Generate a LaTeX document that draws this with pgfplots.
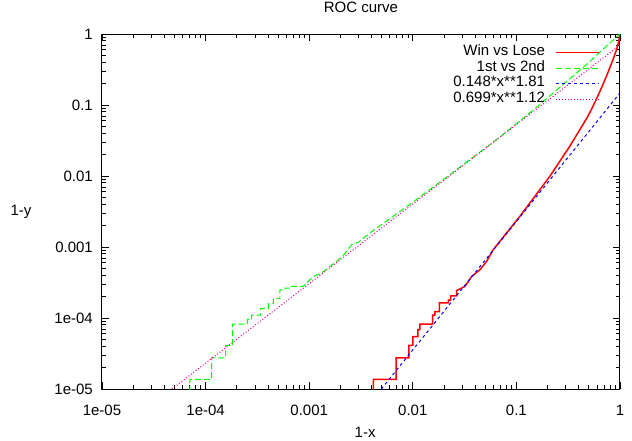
\documentclass[border=0pt]{standalone}
\usepackage{fontspec}
\setmainfont{Liberation Sans}
\usepackage{pgfplots}
\pgfplotsset{compat=1.18}
\begin{document}
\fontsize{15bp}{18bp}\selectfont
\begin{tikzpicture}
\path[use as bounding box] (-102bp,-52bp) rectangle (530bp,389bp);
\begin{axis}[
  at={(0,0)}, anchor=south west,
  scale only axis, width=518bp, height=355bp,
  xmode=log, ymode=log,
  xmin=1e-5, xmax=1, ymin=1e-5, ymax=1,
  xtick={1e-5,1e-4,1e-3,1e-2,1e-1,1},
  xticklabels={\mbox{1e-05},\mbox{1e-04},\mbox{0.001},\mbox{0.01},\mbox{0.1},\mbox{1}},
  ytick={1e-5,1e-4,1e-3,1e-2,1e-1,1},
  yticklabels={\mbox{1e-05},\mbox{1e-04},\mbox{0.001},\mbox{0.01},\mbox{0.1},\mbox{1}},
  minor xtick={2e-5,3e-5,4e-5,5e-5,6e-5,7e-5,8e-5,9e-5,2e-4,3e-4,4e-4,5e-4,6e-4,7e-4,8e-4,9e-4,2e-3,3e-3,4e-3,5e-3,6e-3,7e-3,8e-3,9e-3,2e-2,3e-2,4e-2,5e-2,6e-2,7e-2,8e-2,9e-2,0.2,0.3,0.4,0.5,0.6,0.7,0.8,0.9},
  minor ytick={2e-5,3e-5,4e-5,5e-5,6e-5,7e-5,8e-5,9e-5,2e-4,3e-4,4e-4,5e-4,6e-4,7e-4,8e-4,9e-4,2e-3,3e-3,4e-3,5e-3,6e-3,7e-3,8e-3,9e-3,2e-2,3e-2,4e-2,5e-2,6e-2,7e-2,8e-2,9e-2,0.2,0.3,0.4,0.5,0.6,0.7,0.8,0.9},
  tick align=inside,
  major tick length=7bp, minor tick length=4bp,
  every tick/.style={black, line width=0.8bp},
  axis line style={line width=1bp},
  /pgf/number format/assume math mode=true,
  xticklabel style={anchor=north, inner sep=0pt, yshift=-15.5bp},
  yticklabel style={anchor=east, inner sep=0pt, xshift=-9bp},
  title={ROC curve},
  title style={at={(axis description cs:0.5,1)}, anchor=center, inner sep=0pt, yshift=21bp},
  xlabel={1-x},
  xlabel style={at={(axis description cs:0.508,0)}, anchor=center, inner sep=0pt, yshift=-43bp},
  ylabel={1-y},
  ylabel style={at={(axis description cs:0,0.5)}, anchor=center, rotate=-90, inner sep=0pt, xshift=-81bp},
  legend plot pos=right,
  legend cell align=right,
  legend image code/.code={\draw (0bp,0bp) -- (43bp,0bp);},
  legend style={draw=none, fill=none, at={(axis description cs:0.961,0.970)}, anchor=north east,
    inner sep=0pt, row sep=0pt, column sep=10bp,
    nodes={inner sep=0pt, text height=11bp, text depth=4.5bp}},
]
\addplot[red, line width=1.5bp] coordinates {
(4.16e-3,5e-6) (4.16e-3,1.37e-5) (6.89e-3,1.37e-5) (6.89e-3,2.74e-5)
(9.18e-3,2.74e-5) (9.18e-3,4.11e-5) (1.00e-2,4.11e-5) (1.00e-2,5.48e-5)
(1.122e-2,5.48e-5) (1.122e-2,6.85e-5) (1.172e-2,6.85e-5) (1.172e-2,8.22e-5)
(1.556e-2,8.22e-5) (1.556e-2,1.10e-4) (1.637e-2,1.10e-4) (1.637e-2,1.23e-4)
(1.803e-2,1.23e-4) (1.803e-2,1.64e-4) (2.203e-2,1.64e-4) (2.203e-2,1.78e-4)
(2.323e-2,1.78e-4) (2.323e-2,2.05e-4) (2.655e-2,2.05e-4) (2.655e-2,2.44e-4)
(3.19e-2,2.79e-4) (3.71e-2,3.86e-4) (4.46e-2,4.80e-4) (5.16e-2,6.28e-4)
(5.98e-2,9.18e-4) (0.1084,2.72e-3) (0.1455,4.83e-3) (0.2109,9.95e-3)
(0.3289,2.65e-2) (0.4775,6.49e-2) (0.5333,8.81e-2) (0.631,0.1479)
(0.7447,0.2600) (0.8511,0.4266) (0.929,0.6095) (0.9727,0.7943) (1,1)
};
\addlegendentry{Win vs Lose}
\addplot[color={rgb,255:red,0;green,255;blue,0}, line width=1bp, dash pattern=on 6bp off 3bp] coordinates {
(7.06e-5,5e-6) (7.06e-5,1.37e-5) (1.146e-4,1.37e-5) (1.146e-4,2.74e-5)
(1.563e-4,2.74e-5) (1.563e-4,4.11e-5) (1.828e-4,4.11e-5) (1.828e-4,8.22e-5)
(2.529e-4,8.22e-5) (2.529e-4,9.59e-5) (2.786e-4,9.59e-5) (2.786e-4,1.096e-4)
(3.40e-4,1.096e-4) (3.40e-4,1.37e-4) (4.03e-4,1.37e-4) (4.03e-4,1.59e-4)
(4.50e-4,1.59e-4) (4.50e-4,1.87e-4) (5.22e-4,1.87e-4) (5.22e-4,2.50e-4)
(5.83e-4,2.50e-4) (5.83e-4,2.64e-4) (6.53e-4,2.64e-4) (6.53e-4,2.79e-4)
(8.77e-4,2.79e-4) (1.019e-3,3.47e-4) (1.138e-3,3.94e-4) (1.321e-3,4.31e-4)
(1.476e-3,4.91e-4) (1.841e-3,6.28e-4) (2.133e-3,7.57e-4) (2.570e-3,1.081e-3)
(2.979e-3,1.164e-3) (3.459e-3,1.390e-3) (3.864e-3,1.581e-3) (1.0e-2,4.27e-3)
(2.512e-2,1.16e-2) (6.95e-2,3.55e-2) (0.1514,8.91e-2) (0.3162,0.2239)
(0.5012,0.398) (0.7413,0.676) (0.8913,0.861) (1,1)
};
\addlegendentry{1st vs 2nd}
\addplot[blue, line width=1bp, dash pattern=on 3bp off 3bp] coordinates {
(4.966e-3,1e-5) (1,0.148)
};
\addlegendentry{0.148*x**1.81}
\addplot[magenta, line width=1bp, dash pattern=on 1bp off 2bp] coordinates {
(4.73e-5,1e-5) (1,0.699)
};
\addlegendentry{0.699*x**1.12}
\end{axis}
\end{tikzpicture}
\end{document}
